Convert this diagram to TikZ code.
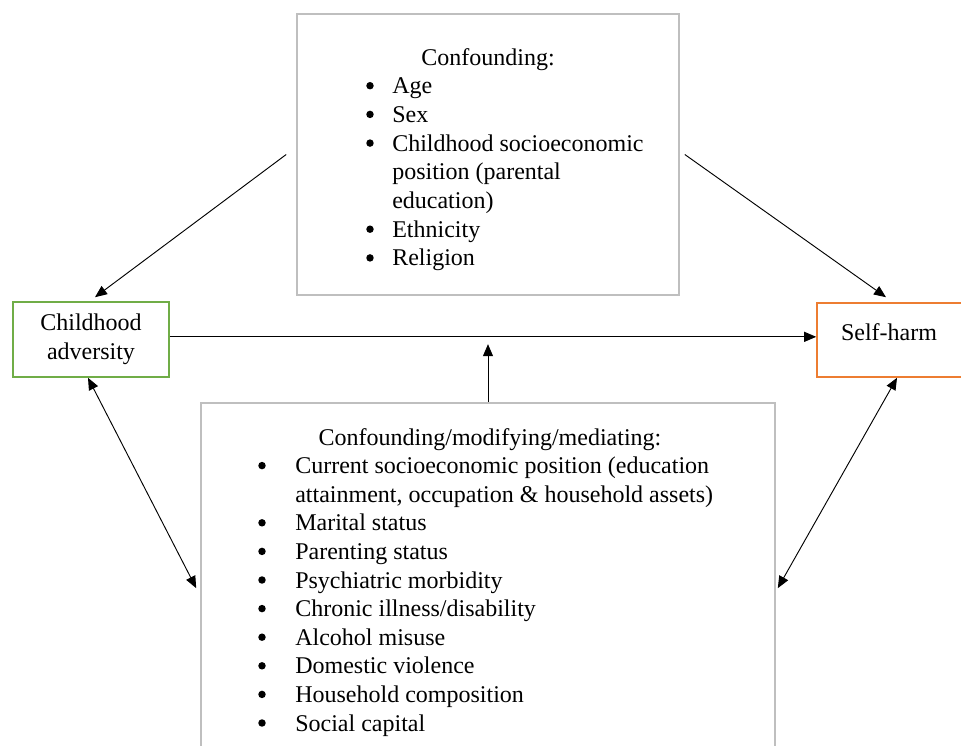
\documentclass[tikz,border=0pt]{standalone}
\usepackage{fontspec}
\setmainfont{Liberation Serif}
\usetikzlibrary{arrows.meta,positioning}
\definecolor{boxgray}{RGB}{191,191,191}
\definecolor{advgreen}{RGB}{112,173,71}
\definecolor{harmorange}{RGB}{237,125,49}

\begin{document}
\begin{tikzpicture}[x=0.75pt,y=-0.75pt,
    font=\fontsize{18}{21.7}\selectfont,
    >={Triangle[length=9pt,width=7.5pt]},
    frame/.style={draw=boxgray,line width=1.2pt,inner sep=0pt},
    link/.style={line width=0.7pt},
    txt/.style={anchor=base west,inner sep=0pt},
    dot/.style={anchor=base,inner sep=0pt},
    bullet/.style={circle,fill=black,inner sep=0pt,minimum size=5.6pt}]
  \useasboundingbox (0,0) rectangle (961,746);
  \clip (0,0) rectangle (961,746);

  % boxes
  \node[frame,minimum width=286.5pt,minimum height=210.75pt] (conf) at (488,154.5) {};
  \node[frame,minimum width=430.5pt,minimum height=282.75pt] (med) at (488,591.5) {};
  \node[draw=advgreen,line width=1.2pt,minimum width=117pt,minimum height=56.25pt,align=center] (adv) at (91,339.5) {Childhood\\adversity};
  \node[draw=harmorange,line width=1.2pt,minimum width=109.5pt,minimum height=55.5pt] (harm) at (890,340) {};
  \node[dot] (harmtxt) at (889,340) {Self-harm};

  % confounders
  \node[dot] (ctitle) at (488,65) {Confounding:};
  \foreach \k/\b/\t in {1/1/Age, 2/1/Sex, 3/1/Childhood socioeconomic,
      4/0/position (parental, 5/0/education), 6/1/Ethnicity, 7/1/Religion}{
    \node[txt] (c\k) at (392,65+28.7*\k) {\t};
    \ifnum\b=1 \node[bullet] (cb\k) at (370,57+28.7*\k) {}; \fi
  }

  % modifiers / mediators
  \node[dot] (mtitle) at (490,445) {Confounding/modifying/mediating:};
  \foreach \k/\b/\t in {1/1/{Current socioeconomic position (education},
      2/0/{attainment, occupation \& household assets)}, 3/1/Marital status,
      4/1/Parenting status, 5/1/Psychiatric morbidity, 6/1/{Chronic illness/disability},
      7/1/Alcohol misuse, 8/1/Domestic violence, 9/1/Household composition,
      10/1/Social capital}{
    \node[txt] (m\k) at (295,445+28.6*\k) {\t};
    \ifnum\b=1 \node[bullet] (mb\k) at (262,437+28.6*\k) {}; \fi
  }

  % arrows
  \draw[link,->] ([xshift=-7.5pt]conf.west) -- ([xshift=3pt,yshift=3pt]adv.north);
  \draw[link,->] ([xshift=3.75pt]conf.east) -- ([xshift=-3pt,yshift=3.75pt]harm.north);
  \draw[link,->] ([yshift=2pt]adv.east) -- ([yshift=2pt]adv.east -| harm.west);
  \draw[link,->] (med.north) -- ([yshift=-3.5pt]adv.east -| med.north);
  \draw[link,<->] ([xshift=-2.25pt]adv.south) -- ([xshift=-3pt,yshift=2.5pt]med.west);
  \draw[link,<->] ([xshift=5.25pt]harm.south) -- ([xshift=1.5pt,yshift=2.5pt]med.east);
\end{tikzpicture}
\end{document}
